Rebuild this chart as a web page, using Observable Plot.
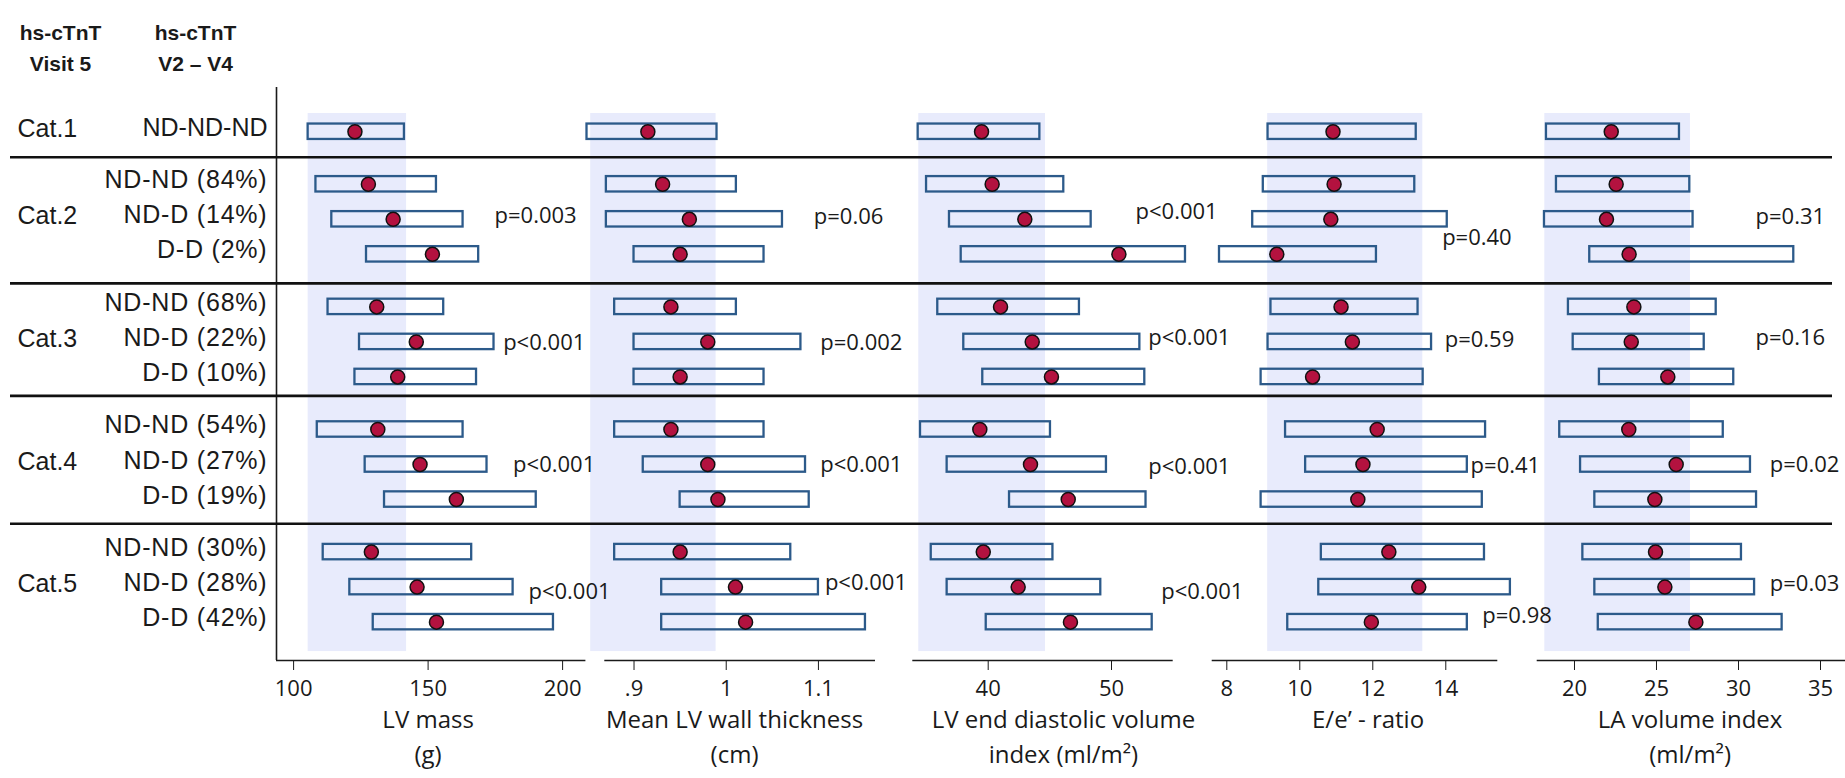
<!DOCTYPE html>
<html><head><meta charset="utf-8">
<script src="https://cdn.jsdelivr.net/npm/d3@7"></script>
<script src="https://cdn.jsdelivr.net/npm/@observablehq/plot@0.6"></script>
<style>
html,body{margin:0;padding:0;background:#fff;}
#chart{position:relative;width:1845px;height:778px;overflow:hidden;background:#fff;}
#chart svg{position:absolute;left:0;top:0;}
</style></head><body><div id="chart"></div>
<script>
// ---------- data ----------
const cats = ["Cat.1", "Cat.2", "Cat.3", "Cat.4", "Cat.5"];
const catRow = [0, 2.5, 6, 9.5, 13];
const rowLabels = ["ND-ND-ND", "ND-ND (84%)", "ND-D (14%)", "D-D (2%)", "ND-ND (68%)", "ND-D (22%)", "D-D (10%)",
  "ND-ND (54%)", "ND-D (27%)", "D-D (19%)", "ND-ND (30%)", "ND-D (28%)", "D-D (42%)"];
const rowPos = [0, 1.5, 2.5, 3.5, 5, 6, 7, 8.5, 9.5, 10.5, 12, 13, 14];
const separators = [0.73, 4.33, 7.54, 11.19];

// LV mass (g)
const massLo  = [105.4, 108.3, 114.2, 127.1, 112.8, 124.5, 122.8, 108.8, 126.6, 133.8, 111.0, 120.9, 129.6];
const massMed = [122.8, 127.8, 137.0, 151.6, 130.9, 145.6, 138.7, 131.3, 147.0, 160.5, 128.9, 145.9, 153.1];
const massHi  = [141.2, 153.1, 163.0, 168.8, 155.8, 174.5, 168.0, 163.0, 171.9, 190.2, 166.2, 181.6, 196.6];
const massBand = [105.4, 142.0];
// Mean LV wall thickness (cm)
const wallLo  = [0.849, 0.870, 0.870, 0.900, 0.879, 0.900, 0.900, 0.879, 0.910, 0.950, 0.879, 0.930, 0.930];
const wallMed = [0.915, 0.931, 0.960, 0.950, 0.940, 0.980, 0.950, 0.940, 0.980, 0.991, 0.950, 1.010, 1.021];
const wallHi  = [0.990, 1.011, 1.061, 1.041, 1.011, 1.081, 1.041, 1.041, 1.086, 1.090, 1.070, 1.100, 1.151];
const wallBand = [0.853, 0.989];
// LV end diastolic volume index (ml/m2)
const edvLo  = [34.32, 35.00, 36.86, 37.81, 35.91, 38.02, 39.56, 34.51, 36.67, 41.73, 35.38, 36.67, 39.84];
const edvMed = [39.46, 40.32, 42.97, 50.60, 41.00, 43.57, 45.13, 39.32, 43.43, 46.49, 39.60, 42.43, 46.67];
const edvHi  = [44.19, 46.13, 48.35, 56.00, 47.40, 52.30, 52.70, 45.05, 49.59, 52.80, 45.25, 49.13, 53.30];
const edvBand = [34.37, 44.65];
// E/e' ratio
const eeLo  = [9.13, 9.00, 8.71, 7.80, 9.21, 9.13, 8.94, 9.61, 10.16, 8.94, 10.59, 10.52, 9.67];
const eeMed = [10.91, 10.94, 10.85, 9.37, 11.13, 11.44, 10.35, 12.12, 11.73, 11.59, 12.44, 13.26, 11.96];
const eeHi  = [13.19, 13.15, 14.04, 12.10, 13.24, 13.61, 13.38, 15.09, 14.59, 15.00, 15.06, 15.77, 14.59];
const eeBand = [9.12, 13.37];
// LA volume index (ml/m2)
const laLo  = [18.29, 18.90, 18.17, 20.93, 19.63, 19.92, 21.52, 19.10, 20.37, 21.24, 20.51, 21.24, 21.45];
const laMed = [22.24, 22.54, 21.95, 23.33, 23.62, 23.46, 25.69, 23.31, 26.20, 24.90, 24.94, 25.51, 27.40];
const laHi  = [26.40, 27.03, 27.23, 33.37, 28.64, 27.91, 29.71, 29.07, 30.73, 31.10, 30.18, 30.98, 32.66];
const laBand = [18.19, 27.07];

const titles = [["LV mass", "(g)"], ["Mean LV wall thickness", "(cm)"], ["LV end diastolic volume", "index (ml/m\u00B2)"],
  ["E/e\u2019 - ratio"], ["LA volume index", "(ml/m\u00B2)"]];
const tickValues = [[100, 150, 200], [0.9, 1, 1.1], [40, 50], [8, 10, 12, 14], [20, 25, 30, 35]];
const tickLabels = [["100", "150", "200"], [".9", "1", "1.1"], ["40", "50"], ["8", "10", "12", "14"], ["20", "25", "30", "35"]];

const pText = [["p=0.003", "p<0.001", "p<0.001", "p<0.001"], ["p=0.06", "p=0.002", "p<0.001", "p<0.001"],
  ["p<0.001", "p<0.001", "p<0.001", "p<0.001"], ["p=0.40", "p=0.59", "p=0.41", "p=0.98"], ["p=0.31", "p=0.16", "p=0.02", "p=0.03"]];
const pAt = [[174.7, 177.9, 181.6, 187.3], [1.095, 1.102, 1.102, 1.107], [51.95, 52.98, 52.98, 54.03],
  [13.90, 13.97, 14.68, 15.00], [31.04, 31.04, 31.91, 31.91]];
const pRow = [[2.39, 6.03, 9.52, 13.14], [2.44, 6.04, 9.52, 12.89], [2.30, 5.88, 9.57, 13.14],
  [3.03, 5.94, 9.53, 13.81], [2.44, 5.88, 9.51, 12.90]];
const titleAt = [150, 1.009, 46.1, 11.87, 27.05];

// ---------- layout / scales ----------
const W = 1845, H = 778;
const yDomain = [-1.5, 15.095];
const marginTop = 78.7, marginBottom = 118;
const xDomains = [[93.64, 208.66], [0.8683, 1.1619], [33.885, 55.004], [7.6, 15.425], [17.726, 36.524]];
const axisPx = [[276, 585.4], [604.3, 875], [912.3, 1172.7], [1211.7, 1497.3], [1536.7, 1845]];

const metrics = [
  {lo: massLo, med: massMed, hi: massHi, band: massBand},
  {lo: wallLo, med: wallMed, hi: wallHi, band: wallBand},
  {lo: edvLo, med: edvMed, hi: edvHi, band: edvBand},
  {lo: eeLo, med: eeMed, hi: eeHi, band: eeBand},
  {lo: laLo, med: laMed, hi: laHi, band: laBand}
];

const BOX = "#2c5a8a", DOT = "#b3123f", BAND = "#e8ebfc", INK = "#1a1a1a";
const firstRow = rowPos[0], lastRow = rowPos[rowPos.length - 1];
const chart = document.getElementById("chart");

function base(i, marks, axis) {
  const tv = tickValues[i], tl = tickLabels[i];
  return Plot.plot({
    width: W, height: H,
    marginLeft: axisPx[i][0], marginRight: W - axisPx[i][1], marginTop, marginBottom,
    style: {background: "transparent", overflow: "visible", fontFamily: "'Open Sans', sans-serif", fontSize: "22px", color: INK},
    x: axis
      ? {domain: xDomains[i], ticks: tv, tickFormat: d => tl[tv.indexOf(d)], tickSize: 10, tickPadding: 10, label: null}
      : {domain: xDomains[i], axis: null},
    y: {domain: yDomain, reverse: true, axis: null},
    marks
  });
}

// pass 1: reference bands (below everything)
metrics.forEach((m, i) => {
  chart.appendChild(base(i, [
    Plot.rect([m.band], {x1: d => d[0], x2: d => d[1], y1: firstRow - 0.52, y2: lastRow + 0.84, fill: BAND})
  ], false));
});

// pass 2: boxes, medians, p-values, axes, titles
metrics.forEach((m, i) => {
  const rows = rowLabels.map((label, j) => ({label, pos: rowPos[j], lo: m.lo[j], med: m.med[j], hi: m.hi[j]}));
  const pv = pText[i].map((t, k) => ({t, x: pAt[i][k], y: pRow[i][k]}));
  const marks = [
    Plot.ruleY([yDomain[1]], {stroke: INK, strokeWidth: 1.6}),
    Plot.rect(rows, {x1: "lo", x2: "hi", y1: d => d.pos - 0.22, y2: d => d.pos + 0.22, fill: "none", stroke: BOX, strokeWidth: 2.3}),
    Plot.dot(rows, {x: "med", y: "pos", r: 7, fill: DOT, stroke: "#111", strokeWidth: 1.5}),
    Plot.text(pv, {x: "x", y: "y", text: "t", textAnchor: "start", fontSize: 22, fill: INK}),
    Plot.text([titles[i][0]], {x: titleAt[i], text: d => d, frameAnchor: "bottom", dy: 67, fontSize: 24, fill: INK})
  ];
  if (titles[i][1]) marks.push(Plot.text([titles[i][1]], {x: titleAt[i], text: d => d, frameAnchor: "bottom", dy: 102, fontSize: 24, fill: INK}));
  if (i === 0) marks.push(Plot.ruleX([xDomains[0][0]], {y1: -1.265, y2: yDomain[1], stroke: INK, strokeWidth: 1.6}));
  chart.appendChild(base(i, marks, true));
});

// overlay: separators, row labels, category labels, header
const rowsAll = rowLabels.map((label, j) => ({label, pos: rowPos[j]}));
const catsAll = cats.map((c, j) => ({c, pos: catRow[j]}));
const overlay = Plot.plot({
  width: W, height: H,
  marginLeft: 10, marginRight: 13, marginTop, marginBottom,
  style: {background: "transparent", overflow: "visible", fontFamily: "'Liberation Sans', Arial, sans-serif", color: INK},
  y: {domain: yDomain, reverse: true, axis: null},
  marks: [
    Plot.ruleY(separators, {stroke: "#111", strokeWidth: 2.6}),
    Plot.text(rowsAll, {y: "pos", text: "label", frameAnchor: "left", textAnchor: "end", dx: 257, dy: -4, fontSize: 25, fill: INK}),
    Plot.text(catsAll, {y: "pos", text: "c", frameAnchor: "left", textAnchor: "start", dx: 7, dy: -3, fontSize: 25, fill: INK}),
    Plot.text(["hs-cTnT\nVisit 5"], {text: d => d, frameAnchor: "top-left", textAnchor: "middle", lineAnchor: "top", dx: 50, dy: -60.5, fontSize: 21, fontWeight: "bold", lineHeight: 1.45, fill: INK}),
    Plot.text(["hs-cTnT\nV2 \u2013 V4"], {text: d => d, frameAnchor: "top-left", textAnchor: "middle", lineAnchor: "top", dx: 185, dy: -60.5, fontSize: 21, fontWeight: "bold", lineHeight: 1.45, fill: INK})
  ]
});
chart.appendChild(overlay);
// slightly wider tracking for the percentage labels, as in the original font
d3.select(overlay).selectAll("text").filter(function () { return /%/.test(this.textContent); }).style("letter-spacing", "0.8px");
</script></body></html>
